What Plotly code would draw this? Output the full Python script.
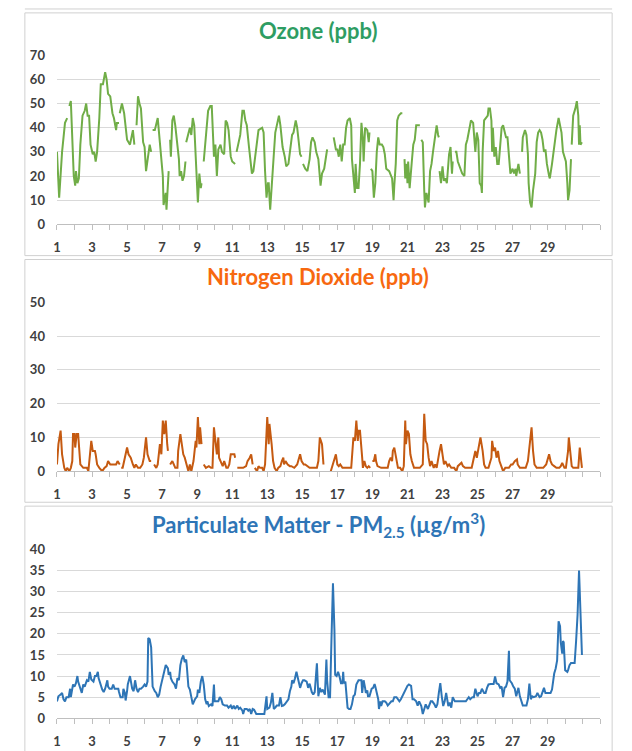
import plotly.graph_objects as go

W, H = 632, 751

# ---------------- data (hour of month, value); None = missing data ----------------
ozone_hours = [0,3,7,11,14,None,17,19,23,25,26,28,30,32,35,38,40,42,44,46,49,51,53,55,58,60,63,66,68,70,73,76,78,81,82,85,None,
86,89,92,94,96,100,102,104,106,None,109,111,113,115,118,120,122,125,127,129,None,131,134,138,140,143,145,146,149,150,153,None,
155,156,158,160,162,164,167,168,170,172,174,176,None,177,180,182,184,186,188,190,192,193,195,197,198,None,
201,204,207,210,212,215,217,219,221,224,226,229,231,233,235,238,240,244,None,
246,249,251,254,256,258,260,263,265,267,269,272,275,276,281,283,285,287,289,290,292,294,297,299,302,304,306,309,312,314,317,319,322,324,327,329,331,333,335,None,
337,340,343,346,348,350,353,355,358,360,361,363,366,369,370,None,
379,382,384,386,388,390,392,394,396,398,401,403,404,406,408,409,411,413,415,417,419,420,422,425,427,428,None,
430,432,434,436,438,440,442,445,447,449,451,455,459,461,462,464,466,468,471,473,None,
476,477,479,480,481,483,486,488,490,492,494,497,None,499,501,503,504,506,507,509,511,513,515,517,520,522,523,None,
524,526,528,530,532,534,537,539,541,542,None,
545,547,549,552,555,558,560,562,565,567,570,572,573,575,577,579,581,582,583,585,588,590,591,593,595,596,597,599,601,603,605,607,609,611,613,615,617,619,620,621,624,626,628,629,632,634,None,
637,638,641,643,645,646,648,650,652,655,657,659,661,663,665,667,669,671,674,675,678,681,682,684,687,689,691,693,696,697,699,700,702,704,None,
705,707,710,712,714,715,716,717,719]
ozone_ppb = [30,11,30,42,44,None,49,51,20,16,22,17,19,33,45,47,50,45,45,33,29,30,26,30,44,58,58,63,60,54,53,46,44,39,42,42,None,
46,50,46,40,35,33,37,39,33,None,41,53,50,48,34,32,22,30,33,30,None,39,39,44,38,26,20,8,13,6,22,None,
35,28,43,45,41,35,27,20,22,18,20,26,None,34,37,40,37,44,41,29,20,9,21,15,17,None,
26,38,47,49,49,28,33,20,31,33,30,29,43,42,39,28,26,25,None,
30,34,37,47,47,43,41,32,26,21,22,29,38,39,40,38,22,11,17,17,6,17,29,38,43,45,41,32,28,24,25,30,37,38,43,40,33,29,28,None,
25,23,22,27,34,36,34,30,27,16,16,21,23,29,31,None,
36,31,31,28,33,26,33,33,40,43,44,41,27,19,13,25,15,15,25,42,35,26,40,39,34,38,None,
23,22,11,17,30,36,33,33,32,29,23,22,19,10,16,25,43,45,46,46,None,
27,19,25,17,26,15,26,33,35,41,41,41,None,35,34,14,7,13,12,9,22,25,30,34,41,37,36,None,
22,17,24,18,19,17,29,32,21,26,None,
30,30,26,23,21,20,33,35,41,43,42,33,30,38,35,17,16,13,30,43,44,45,48,48,43,30,40,28,32,25,25,35,40,41,38,36,36,30,27,21,23,21,23,20,25,21,None,
30,36,39,37,29,17,9,7,14,21,34,38,39,38,35,30,31,25,20,19,25,33,35,39,44,40,38,30,26,26,17,10,14,27,None,
33,45,48,51,45,33,41,33,34]

no2_hours = [0,2,5,7,10,12,14,17,19,21,22,24,25,27,29,30,32,36,41,43,45,47,49,52,53,55,58,62,65,68,70,73,76,81,83,86,None,
88,90,93,96,98,101,104,106,108,111,114,117,119,122,124,127,129,None,
133,136,138,141,143,145,147,149,151,152,None,
155,158,160,162,165,166,169,171,173,175,177,180,182,184,187,190,191,193,195,196,198,None,
201,204,208,211,213,215,217,219,221,222,224,227,229,232,234,236,238,240,243,244,None,
247,251,255,259,261,264,266,268,None,
271,274,276,278,281,283,285,288,290,291,294,296,298,301,303,306,308,310,311,313,316,319,321,325,329,333,335,338,340,343,346,351,356,358,360,363,365,None,
375,377,380,382,384,386,388,391,394,399,403,406,408,410,412,413,415,418,419,421,423,425,427,429,None,
432,434,436,437,439,444,449,453,455,457,459,460,462,465,467,470,473,
475,477,478,480,482,484,486,489,492,497,501,503,505,507,509,511,513,516,518,520,524,526,528,530,532,535,537,540,544,547,549,551,554,556,559,563,568,570,573,575,578,580,583,585,587,591,595,596,598,600,602,604,606,608,611,614,619,622,624,627,630,631,634,638,642,645,648,650,652,654,657,662,666,670,672,674,676,678,681,684,688,690,692,695,697,700,701,703,705,707,711,714,716,718,719]
no2_ppb = [2,8,12,5,1,0,1,0,1,3,11,11,7,11,11,7,2,1,1,0,4,9,6,6,5,2,1,0,1,1.5,3,2,2,2,3,2,None,
1,1,4,7,5,4,2,1,2,1,1,2,4,10,5,3,3,None,
2,1,2,8,5,15,11,15,8,6,None,
2,3,2,1,1,6,11,8,5,4,2,0,2,0,3,9,7,16,8,13,8,None,
2,1,1.5,1,1,13,9,5,10,4,3,1.5,3,1,1,2,5,5,5,4,None,
1,1,1,1.5,3,4,5,2,None,
1,0,1.5,1,1,0,2,16,8,14,8,3,1,0,1,1.5,3,4,2,3,2,1.5,1.5,1,2,5,3,2,2,1.5,1,1,1,3,10,8,2,None,
0,1.5,3,5,2,1.5,2,1,1,1,1,10,9,15,9,12,12,4,1,3,1.5,1,1.5,1,None,
3,3,5,3,1.5,1,1,1,3,4,3,6,7,3,1,1,0,
1.5,15,8,12,11,5,3,1,1,1,2,17,9,8,4,1.5,3,1,2,1,6,8,5,2,3,1.5,2,1,1,0,1.5,2,2.5,1.5,1,1,1,3,6,4,8,10,6,2,1,1,4,9,6,7,4,6,3,1.5,0,1,1,2,2,3,3.5,2,1,1,1,3,8,13,6,2,1,1,1,2,4,5,3,2,1.5,1,1,1.5,2.5,1,1,6,10,6,1.5,1,1,1,7,2,1]

pm_hours = [0,2,5,7,9,11,13,16,18,19,22,24,26,28,29,32,34,36,38,41,43,45,47,50,52,54,56,57,60,62,64,66,69,70,72,75,77,79,82,84,85,87,90,91,93,94,96,97,
100,101,103,105,107,109,111,113,115,118,120,122,124,125,127,129,130,131,134,136,138,140,142,145,147,149,152,153,155,156,158,161,163,165,167,169,171,173,175,177,178,
180,182,184,186,189,192,193,195,197,199,201,203,205,206,208,211,213,215,216,219,221,223,225,227,230,233,235,238,240,242,244,247,249,251,254,255,257,260,262,264,266,268,270,273,276,281,284,287,288,
291,293,295,297,299,301,304,306,308,310,312,315,317,319,321,322,324,326,328,330,333,335,337,339,342,344,346,349,351,353,356,357,358,360,362,364,367,369,370,372,374,376,378,380,381,383,385,387,389,391,392,393,395,398,
400,402,404,406,408,410,413,415,417,418,420,422,423,425,426,428,431,433,435,436,438,440,441,443,444,446,449,451,453,456,458,460,462,465,467,469,471,474,476,478,480,482,485,487,489,492,494,496,499,
501,503,505,508,510,512,514,517,519,521,523,525,527,529,531,533,536,538,540,542,545,547,551,555,560,562,564,566,569,571,573,576,578,580,582,585,587,589,591,594,596,598,
600,602,605,607,609,611,613,615,617,619,620,623,625,627,629,632,634,636,638,640,643,645,647,649,651,653,656,658,661,663,665,667,669,672,674,676,678,681,683,685,687,689,690,692,693,694,696,699,
700,702,704,707,709,711,713,715,717,719]
pm_ugm3 = [4,5.2,5.6,6,4.5,4,5,5,7,5,8,7.5,8.3,10,8.7,6.8,6,8,7.5,9,8.7,11,9.2,8.7,10,10,11,9.5,7.5,6.8,6.2,7,9,7.5,7,7,8,7,7,7,6.2,5,5,7,6,4.2,6.4,8,
10,9,7,6.4,9,7,6.2,7,7,7.5,8,7.5,8.7,19,18.7,16.8,9,7.5,6.4,6,5,5.6,7.5,9.5,11.4,12.6,11.8,10.3,11,9.5,8.7,8,7,9.5,9,12.6,14.1,14.9,13.3,13.9,12,
7.5,6.8,4.5,3.3,4.5,5.2,6.8,6,8.7,10,8,4.5,3.3,4,2.9,3.3,2.9,8,4,4,4,5,4.5,3.3,3,3,2.5,3,2.2,3,2.2,3,2.2,2.5,1.8,1,2.2,2.2,1.8,2.2,1,2.2,2,1,1,1,1,5.2,2.2,
2.5,3.7,6,2.2,2.5,3,3,5,2.9,3,3.3,4,4.5,6.4,7.5,9,8.3,9.5,11,9.5,7.2,8.3,9,9,8.7,7.2,8.2,6.2,5.6,6.2,13,9,5.2,7.2,6.2,6.8,5.6,13.9,9,5,5,19,32,21,10.3,10,11,9.9,8.3,8.3,11,8.3,8.7,2.5,
2.2,2.2,3.3,5.2,5.6,8,9,9,9,6,9,7.2,6,6.6,5.2,5.2,7,7.2,8.1,7.5,6,4.5,2.2,4,2.9,4,4,3.7,3,3.7,4,4,5,5,4.5,4,4.5,5.6,6,6.8,7.7,8,7.7,4.5,4.5,4,3,4,2.9,
1,2.5,3.3,2.2,3,4,4,3.3,2.5,3.3,6,8.3,5.2,2.9,4,6,2.9,3.7,2.5,5,4,4,4,4,4,4.5,5,4.5,5,5,7,5.2,6,6,7,6,6,7.2,8,8.1,8.1,8.1,
9.9,8.3,8,7.2,7.5,5,7.2,7.5,8.7,16,9,8.3,7.5,7,5.2,7.2,5.2,4,3,3,3,4.5,8.2,4.5,5.2,5,5.2,6,5,5.2,6,7.2,6,6,6,6,6.8,10.6,11.8,13.7,23,21.8,18,15.3,18.3,18,11.4,11,
11.4,12.6,13.1,13.1,13.1,18.3,24.5,35,26,15]

day_ticks = list(range(1, 33))
day_labels = [str(d) if (d % 2 == 1 and d <= 29) else "" for d in day_ticks]

panels = [
    dict(title="Ozone (ppb)", title_color="#2E9D63", line_color="#70AD47",
         hours=ozone_hours, values=ozone_ppb, ymax=70, dtick=10),
    dict(title="Nitrogen Dioxide (ppb)", title_color="#F7680F", line_color="#C55A11",
         hours=no2_hours, values=no2_ppb, ymax=50, dtick=10),
    dict(title="Particulate Matter - PM<sub>2.5</sub> (µg/m<sup>3</sup>)", title_color="#2E75B6", line_color="#2E75B6",
         hours=pm_hours, values=pm_ugm3, ymax=40, dtick=5),
]

# ---------------- layout geometry (page pixels) ----------------
plot_x = (53.3, 600.0)
plot_y = [(48.3, 221.0), (300.7, 473.3), (553.3, 725.7)]   # (top, bottom) of each plot area
boxes = [(5, 253), (257, 505), (509, 780)]
title_y = [23, 274, 528]
box_x = (21, 612)

def px(x):
    return x / W

def py(y):
    return 1 - y / H

tickfont = dict(family="Lato", size=13, color="#404040", weight="bold")

fig = go.Figure()
shapes = []
annotations = []
layout_axes = {}

for i, p in enumerate(panels):
    n = "" if i == 0 else str(i + 1)
    xs = [None if h is None else 1 + h / 24 for h in p["hours"]]
    fig.add_trace(go.Scatter(
        x=xs, y=p["values"], mode="lines",
        line=dict(color=p["line_color"], width=2),
        xaxis="x" + n, yaxis="y" + n, showlegend=False, connectgaps=False,
        hoverinfo="skip"))
    top, bot = plot_y[i]
    layout_axes["xaxis" + n] = dict(
        domain=[px(plot_x[0]), px(plot_x[1])], anchor="y" + n, range=[1, 32],
        tickmode="array", tickvals=day_ticks, ticktext=day_labels,
        ticks="outside", ticklen=5, tickcolor="#bfbfbf", tickwidth=1,
        showline=True, linecolor="#bfbfbf", linewidth=1, showgrid=False, zeroline=False,
        tickfont=tickfont, ticklabelstandoff=6, fixedrange=True)
    layout_axes["yaxis" + n] = dict(
        domain=[py(bot), py(top)], anchor="x" + n, range=[0, p["ymax"]],
        dtick=p["dtick"], tick0=0, showgrid=True, gridcolor="#d9d9d9", gridwidth=1,
        zeroline=False, showline=False, ticks="", tickfont=tickfont,
        ticklabelstandoff=11, fixedrange=True)
    shapes.append(dict(type="rect", xref="paper", yref="paper",
                       x0=px(box_x[0]), x1=px(box_x[1]), y0=py(boxes[i][1]), y1=py(boxes[i][0]),
                       line=dict(color="#d0d0d0", width=1), fillcolor="rgba(0,0,0,0)", layer="below"))
    annotations.append(dict(text="<b>" + p["title"] + "</b>", xref="paper", yref="paper",
                            x=px(316.5), y=py(title_y[i]), xanchor="center", yanchor="middle",
                            showarrow=False,
                            font=dict(family="Lato", size=22, color=p["title_color"])))

shapes.append(dict(type="line", xref="paper", yref="paper",
                   x0=px(box_x[0]), x1=px(box_x[1]), y0=py(1), y1=py(1),
                   line=dict(color="#d0d0d0", width=1)))

fig.update_layout(width=W, height=H, margin=dict(l=0, r=0, t=0, b=0),
                  paper_bgcolor="white", plot_bgcolor="white",
                  shapes=shapes, annotations=annotations, **layout_axes)

fig.write_html("out.html",
               config={"displayModeBar": False, "staticPlot": True},
               post_script="document.body.style.margin='0';"
                           "document.documentElement.style.overflow='hidden';")
